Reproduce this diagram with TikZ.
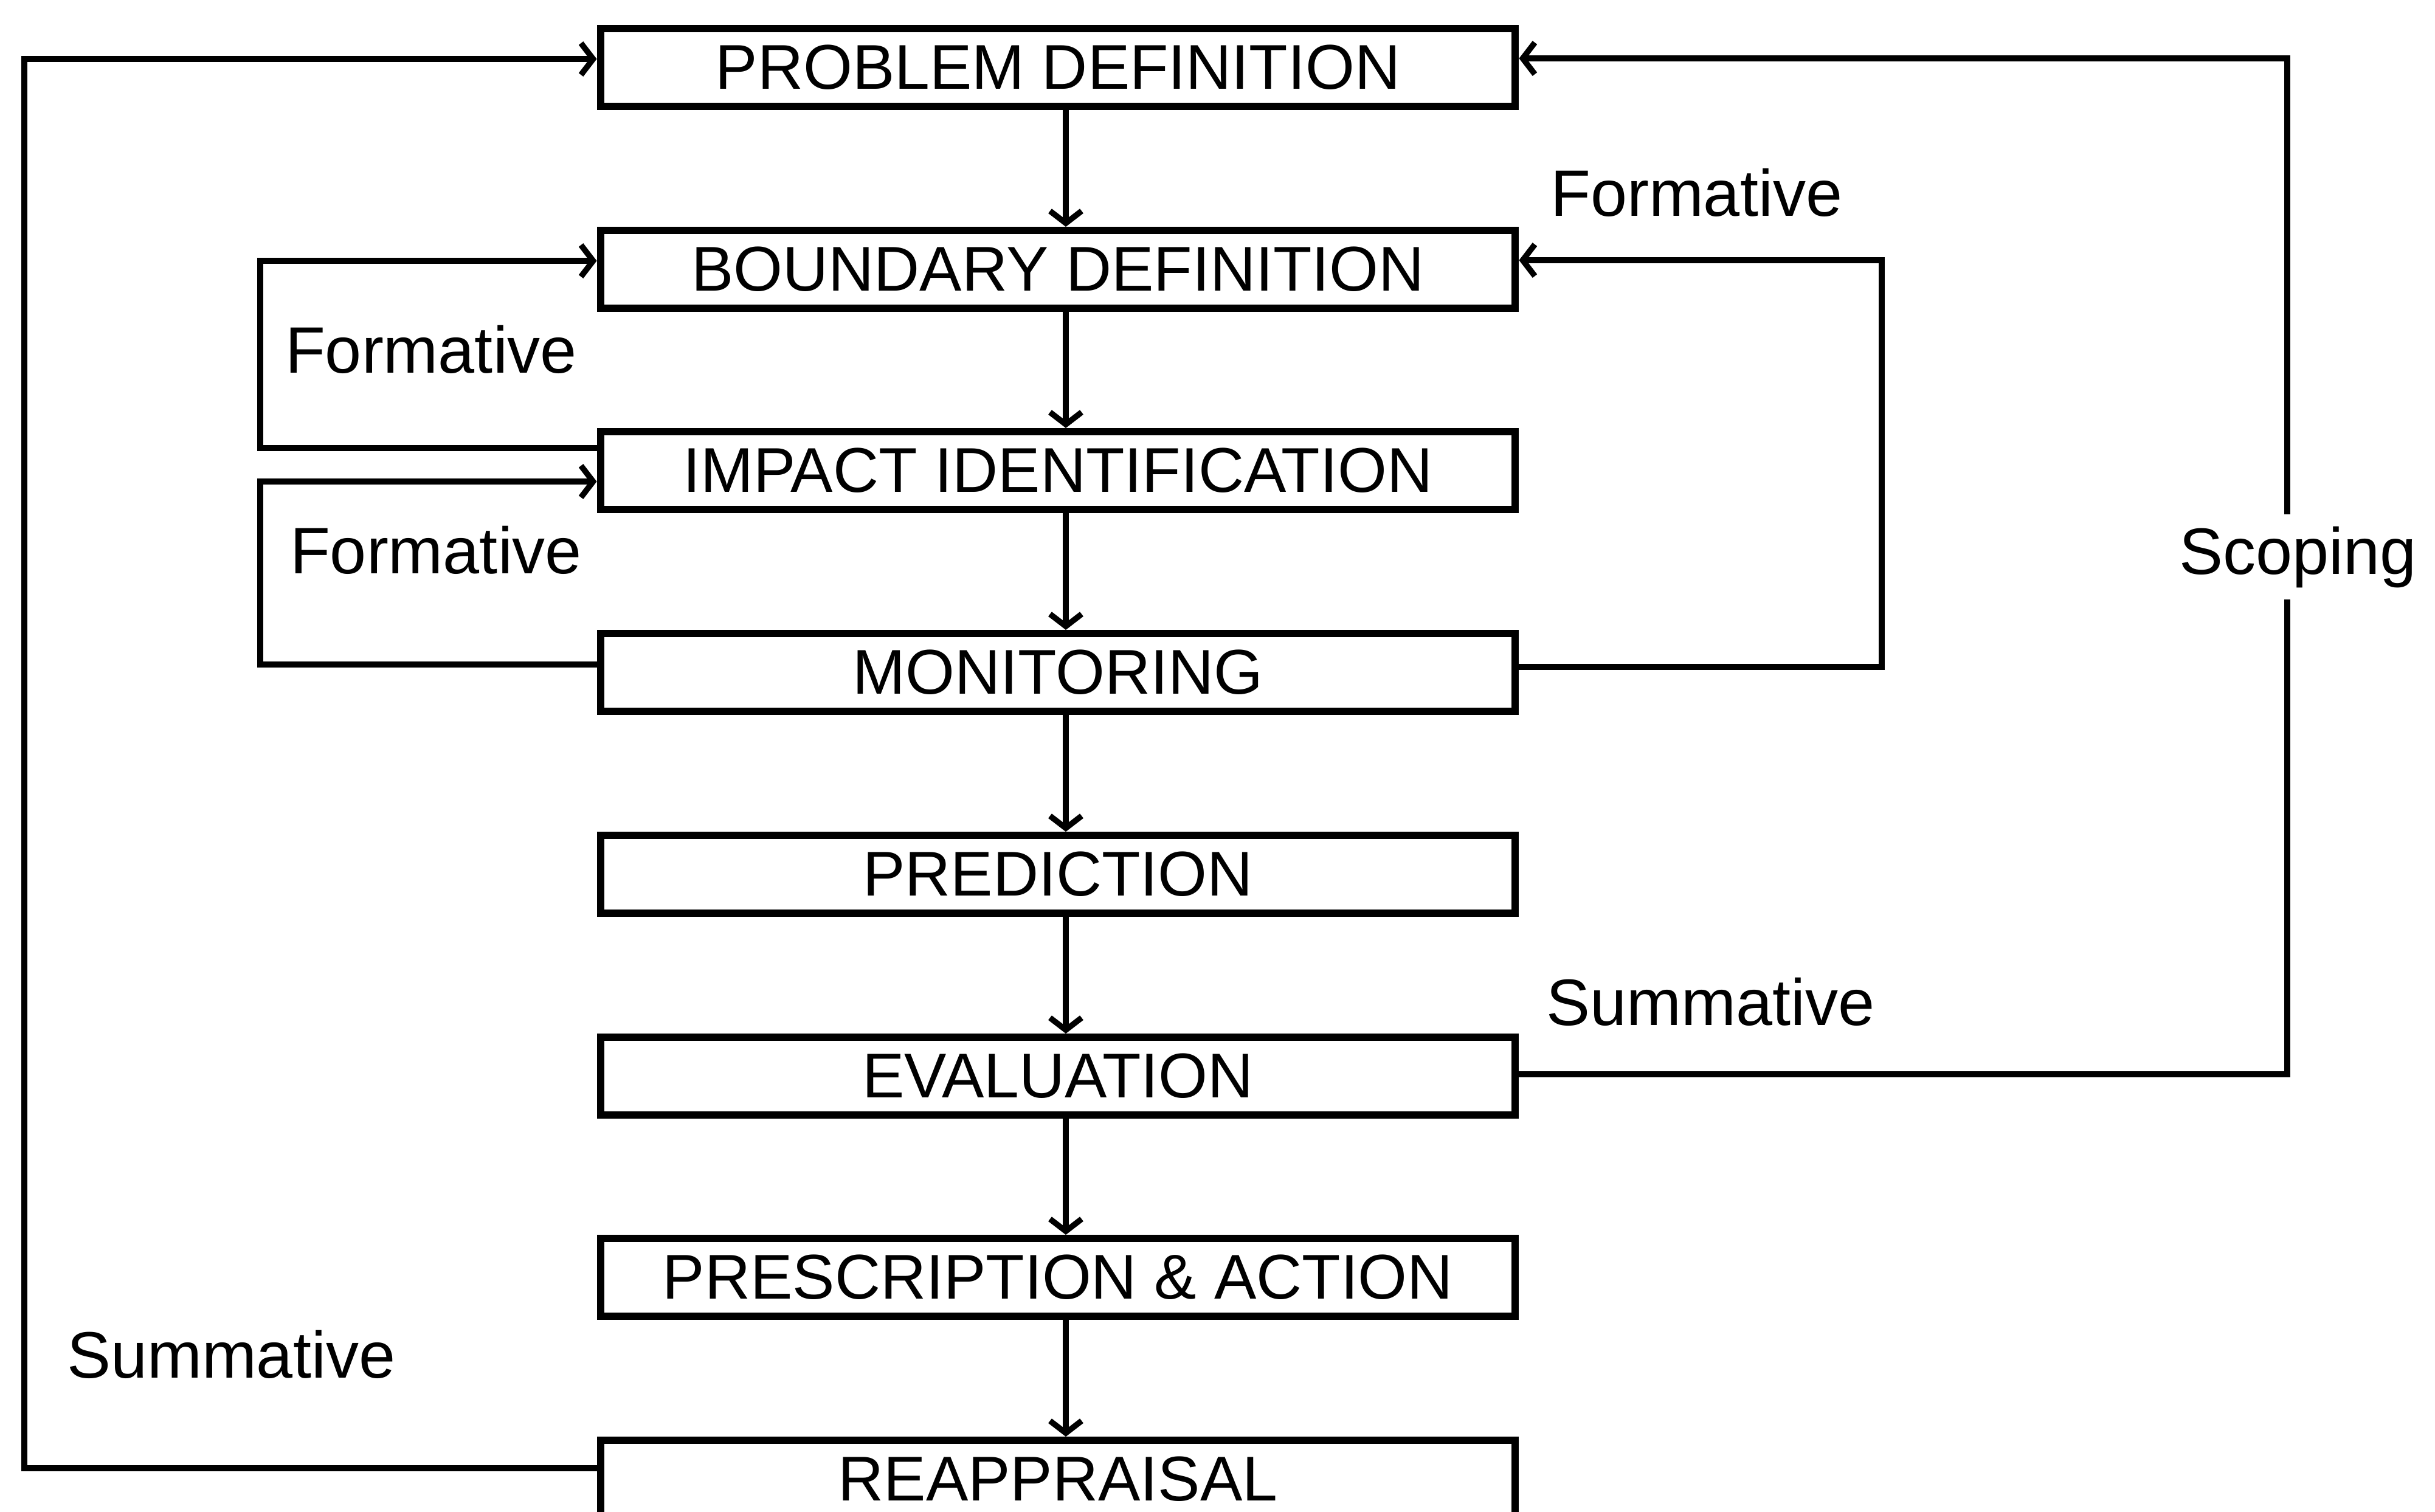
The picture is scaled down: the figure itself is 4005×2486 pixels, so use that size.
\documentclass[tikz,border=0pt]{standalone}
\usepackage{fontspec}
\setmainfont{Liberation Sans}
\usetikzlibrary{arrows.meta,calc}
\begin{document}
\begin{tikzpicture}[x=0.1pt,y=-0.1pt,
  stage/.style={draw,line width=1.2pt,minimum width=150.5pt,minimum height=12.8pt,
    inner sep=0pt,font=\fontsize{10.4pt}{12pt}\selectfont},
  conn/.style={line width=0.95pt,-{Straight Barb[length=2pt,width=5.2pt]}},
  tag/.style={anchor=base west,inner sep=0pt,font=\fontsize{10.8pt}{13pt}\selectfont}]
\useasboundingbox (0,0) rectangle (4005,2486);

% process stages
\node[stage] (problem)     at (1740,111)  {PROBLEM DEFINITION};
\node[stage] (boundary)    at (1740,443)  {BOUNDARY DEFINITION};
\node[stage] (impact)      at (1740,774)  {IMPACT IDENTIFICATION};
\node[stage] (monitoring)  at (1740,1106) {MONITORING};
\node[stage] (prediction)  at (1740,1438) {PREDICTION};
\node[stage] (evaluation)  at (1740,1770) {EVALUATION};
\node[stage] (prescription) at (1740,2101) {PRESCRIPTION \& ACTION};
\node[stage] (reappraisal) at (1740,2433) {REAPPRAISAL};

% main downward chain
\foreach \a/\b in {problem/boundary,boundary/impact,impact/monitoring,
                   monitoring/prediction,prediction/evaluation,
                   evaluation/prescription,prescription/reappraisal}
  \draw[conn] ($(\a.south)+(13,0)$) -- ($(\b.north)+(13,0)$);

% columns of the feedback loops
\coordinate (xOuter) at (40,0);
\coordinate (xInner) at (428,0);
\coordinate (xRight) at (3095,0);
\coordinate (xScope) at (3762,0);

% loop end points on the stage boxes
\path ($(problem.west)+(0,-14)$)     coordinate (pInL)
      ($(problem.east)+(0,-15)$)     coordinate (pInR)
      ($(boundary.west)+(0,-14)$)    coordinate (bInL)
      ($(boundary.east)+(0,-15)$)    coordinate (bInR)
      ($(impact.west)+(0,-37)$)      coordinate (iOut)
      ($(impact.west)+(0,18)$)       coordinate (iIn)
      ($(monitoring.west)+(0,-13)$)  coordinate (mOutL)
      ($(monitoring.east)+(0,-9)$)   coordinate (mOutR)
      ($(evaluation.east)+(0,-3)$)   coordinate (eOut)
      ($(reappraisal.west)+(0,-18)$) coordinate (rOut);

% feedback loops
\draw[conn] (iOut) -- (iOut -| xInner) |- (bInL);
\draw[conn] (mOutL) -- (mOutL -| xInner) |- (iIn);
\draw[conn] (mOutR) -- (mOutR -| xRight) |- (bInR);
\draw[conn] (eOut) -- (eOut -| xScope) |- (pInR);
\draw[conn] (rOut) -- (rOut -| xOuter) |- (pInL);

% loop labels
\node[tag] (fA) at (467,613)  {Formative};
\node[tag] (fB) at (475,943)  {Formative};
\node[tag] (fC) at (2548,355) {Formative};
\node[tag,fill=white,inner ysep=2pt] (sc) at (3582,944) {Scoping};
\node[tag] (sA) at (2541,1686) {Summative};
\node[tag] (sB) at (108,2266)  {Summative};
\end{tikzpicture}
\end{document}
